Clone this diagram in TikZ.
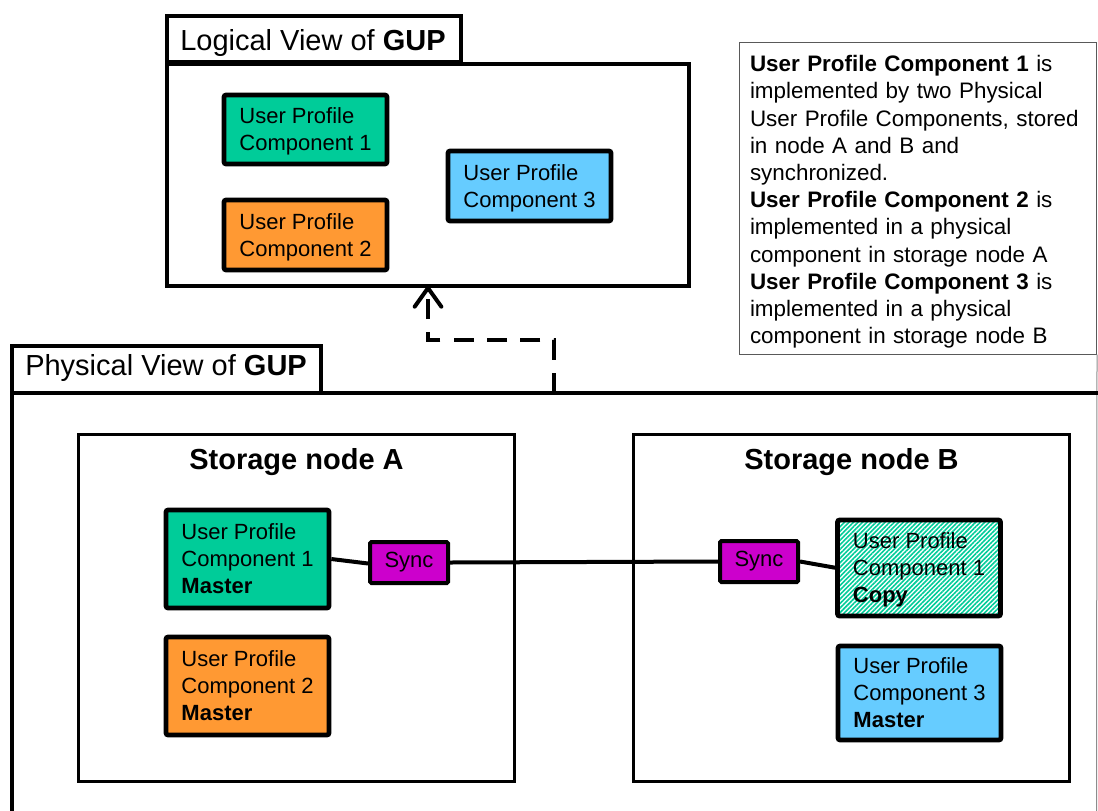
\documentclass[tikz,border=0pt]{standalone}
\usepackage{fontspec}
\setmainfont{Liberation Sans}
\usetikzlibrary{arrows.meta,patterns.meta,calc}
\definecolor{cgreen}{HTML}{00CC99}
\definecolor{corange}{HTML}{FF9933}
\definecolor{cblue}{HTML}{66CCFF}
\definecolor{cmag}{HTML}{CC00CC}
\newcommand\gupTitleFont{\fontsize{21.75}{26}\selectfont}
\newcommand\gupBoxFont{\fontsize{16.5}{20.25}\selectfont}
\newcommand\gupNoteFont{\fontsize{16.8}{20.4}\selectfont}
\begin{document}
\begin{tikzpicture}[x=0.75pt,y=-0.75pt,
  view/.style={draw, line width=3pt, inner sep=0pt},
  comp/.style={draw, line width=3.5pt, rounded corners=1.5pt, align=left, inner sep=0pt, font=\gupBoxFont, text=black, minimum width=122.25pt, text depth=0pt},
  storage/.style={draw, line width=2.25pt, inner sep=0pt, minimum width=327pt, minimum height=260.25pt},
  syncbox/.style={draw, line width=3pt, fill=cmag, rounded corners=1pt, inner sep=0pt, minimum width=58.5pt, minimum height=30.75pt, font=\gupBoxFont},
  link/.style={line width=3pt},
  title/.style={inner sep=0pt, font=\gupTitleFont}
]
\useasboundingbox (0,0) rectangle (1098,810);
\clip (0,0) rectangle (1098,810);

% ---------- Logical view ----------
\node[view, minimum width=220.5pt, minimum height=34.5pt] (ltab) at (314,39) {};
\node[view, minimum width=391.5pt, minimum height=166.5pt] (logical) at (428,175) {};
\node[title, anchor=base west] (ltitle) at (180,50) {Logical View of \textbf{GUP}};

\node[comp, fill=cgreen, minimum height=51.75pt] (l1) at (305.5,129.5) {User Profile\\Component 1};
\node[comp, fill=corange, minimum height=52.5pt] (l2) at (305.5,235) {User Profile\\Component 2};
\node[comp, fill=cblue, minimum height=52.5pt] (l3) at (529.5,186) {User Profile\\Component 3};

% ---------- Note ----------
\node[draw=black!65, line width=0.75pt, minimum width=267.75pt, minimum height=234pt, inner sep=0pt] (note) at (918,198) {};
\node[text width=252pt, inner sep=0pt, align=left, font=\gupNoteFont] (notetext) at (918,202)
{\textbf{User Profile Component 1} is\\
implemented by two Physical\\
User Profile Components, stored\\
in node A and B and\\
synchronized.\\
\textbf{User Profile Component 2} is\\
implemented in a physical\\
component in storage node A\\
\textbf{User Profile Component 3} is\\
implemented in a physical\\
component in storage node B};
\coordinate (edgeBot) at (1096.5,812);
\draw[black!45, line width=0.75pt] (note.south east) -- (edgeBot);

% ---------- Physical view ----------
\node[view, minimum width=231.75pt, minimum height=35.25pt] (ptab) at (166.5,369.5) {};
\node[view, minimum width=838.5pt, minimum height=335.25pt] (phys) at (571,616.5) {};
\node[title, anchor=base west] (ptitle) at (25,375) {Physical View of \textbf{GUP}};

\node[storage] (sa) at (296.5,608) {};
\node[storage] (sb) at (851.5,608) {};
\node[title, anchor=base] (sat) at (296.5,469) {\textbf{Storage node A}};
\node[title, anchor=base] (sbt) at (851.5,469) {\textbf{Storage node B}};

\node[comp, fill=cgreen, minimum height=73.5pt] (m1) at (247.5,559) {User Profile\\Component 1\\\textbf{Master}};
\node[comp, fill=corange, minimum height=73.5pt] (m2) at (247.5,686) {User Profile\\Component 2\\\textbf{Master}};
\node[comp, preaction={fill=white}, pattern={Lines[angle=45,distance=2.4pt,line width=1.2pt]}, pattern color=cgreen, minimum height=72pt] (c1) at (919,568) {User Profile\\Component 1\\\textbf{Copy}};
\node[comp, fill=cblue, minimum height=70.5pt] (m3) at (919.5,693) {User Profile\\Component 3\\\textbf{Master}};

\node[syncbox] (sA) at (409,562.5) {Sync};
\node[syncbox] (sB) at (759,561.5) {Sync};

\draw[link] (m1.east) -- ([yshift=-0.75pt]sA.west);
\draw[link] (sA.east) -- (sB.west);
\draw[link] (sB.east) -- (c1.west);

% ---------- Dashed mapping arrow ----------
\coordinate (dA) at (554,393);
\coordinate (dB) at (428,340);
\draw[line width=3pt, dash pattern=on 15pt off 10pt,
      -{Straight Barb[length=14pt,width=20pt,round]}, shorten >=-1.5pt]
  (dA) |- (dB) -- (dB |- logical.south);
\end{tikzpicture}
\end{document}
